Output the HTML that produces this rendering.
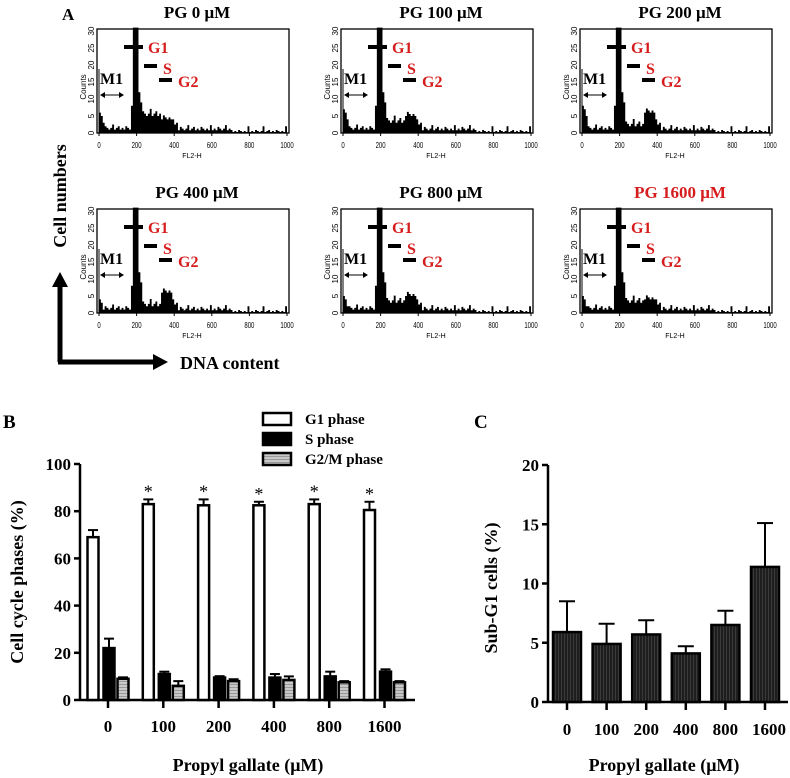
<!DOCTYPE html>
<html><head><meta charset="utf-8"><style>
body{margin:0;background:#fff}
svg{display:block;font-family:"Liberation Serif",serif}
.b{font-weight:bold}
</style></head><body>
<svg id="fig" width="790" height="778" viewBox="0 0 790 778" xmlns="http://www.w3.org/2000/svg">
<defs>
<pattern id="pg" width="3" height="3" patternUnits="userSpaceOnUse"><rect width="3" height="3" fill="#c8c8c8"/><rect width="3" height="1" fill="#999"/></pattern>
<pattern id="pd" width="3" height="3" patternUnits="userSpaceOnUse"><rect width="3" height="3" fill="#1e1e1e"/><rect width="1" height="3" fill="#3a3a3a"/></pattern>
</defs>
<text x="62" y="20" class="b" font-size="17">A</text>
<g id="hist"></g>
<g>
<line x1="60" y1="362" x2="60" y2="285" stroke="#000" stroke-width="5"/>
<polygon points="52,287 68,287 60,272" fill="#000"/>
<line x1="58" y1="362" x2="155" y2="362" stroke="#000" stroke-width="5"/>
<polygon points="153,354 153,370 168,362" fill="#000"/>
<text transform="translate(66,196) rotate(-90)" text-anchor="middle" class="b" font-size="18">Cell numbers</text>
<text x="180" y="369" class="b" font-size="18">DNA content</text>
</g>
<text x="3" y="428" class="b" font-size="19">B</text>
<text x="474" y="428" class="b" font-size="19">C</text>
<g id="chartB"></g>
<g id="chartC"></g>
</svg>
<script>
const NS="http://www.w3.org/2000/svg";
// ---- Chart B data ----
const categories=["0","100","200","400","800","1600"];
const g1Values=[69,83,82.5,82.5,83,80.5];
const g1Err=[3,2,2.5,1.5,2,3.5];
const sValues=[22,11,9.5,9.5,10,12];
const sErr=[4,1,0.6,1.5,2,1];
const g2Values=[9,6,8,8.5,7.5,7.5];
const g2Err=[0.6,2,0.8,1.5,0.5,0.5];
const bTicks=[0,20,40,60,80,100];
// ---- Chart C data ----
const subG1Values=[5.9,4.9,5.7,4.1,6.5,11.4];
const subG1Err=[2.6,1.7,1.2,0.6,1.2,3.7];
const cTicks=[0,5,10,15,20];
// ---- Histogram panel data ----
const panelTitles=["PG 0 μM","PG 100 μM","PG 200 μM","PG 400 μM","PG 800 μM","PG 1600 μM"];
const subG1Heights=[6,7,8,4,5,5];
const g1Heights=[30,30,30,30,30,30];
const sHeights=[5,3,2,2,3,3];
const g2Heights=[4,5,6,6,5,4];
const histTicks=[0,200,400,600,800,1000];
const jitter=[0,1,0,2,1,0,1,3,0,1,2,0,1,0,2,1,0,1,0,3];

function el(tag,attrs,parent,txt){const e=document.createElementNS(NS,tag);for(const k in attrs)e.setAttribute(k,attrs[k]);if(txt!==undefined)e.textContent=txt;parent.appendChild(e);return e;}

const hist=document.getElementById('hist');
const lefts=[97,341,580],tops=[29,209];
panelTitles.forEach((t,i)=>{
  const L=lefts[i%3],T=tops[Math.floor(i/3)],W=192,H=104,B=T+H;
  const g=el('g',{},hist);
  
  
  const tt=el('text',{x:L+100,y:T-11,'text-anchor':'middle','font-size':'17','font-weight':'bold',fill:i==5?'#d61c1c':'#000'},g,t);
  
  
  el('rect',{x:L,y:T,width:W,height:H,fill:'none',stroke:'#000','stroke-width':1.3},g);
  const xs=v=>L+2+v/1000*(W-4), ys=c=>B-Math.min(c,31)/30*(H-2);
  let pts=[[xs(0),B]];
  for(let k=0;k<100;k++){
    const v=k*10,j=jitter[k%20];
    let c;
    if(v<30)c=subG1Heights[i]-k*1.5+j*0.5;
    else if(v<170)c=1+j*0.5;
    else if(v<180)c=8;
    else if(v<210)c=g1Heights[i]+1;
    else if(v<230)c=12-(v-210)*0.3;
    else if(v<330)c=sHeights[i]+j*0.7;
    else if(v<390)c=g2Heights[i]+j*0.6;
    else if(v<420)c=2.5+j*0.5;
    else if(v<700)c=0.8+j*0.5;
    else c=(j==3)?2:0.3+j*0.3;
    pts.push([xs(v),ys(c)],[xs(v+10),ys(c)]);
  }
  pts.push([xs(1000),B]);
  const poly=el('polygon',{points:pts.map(p=>p.join(',')).join(' '),fill:'#000'},g);
  
  
  histTicks.forEach(v=>{el('text',{x:xs(v),y:B+15,'text-anchor':'middle','font-size':'8','font-family':'Liberation Sans,sans-serif',transform:`translate(${xs(v)},${B+15}) scale(0.75,1) translate(${-xs(v)},${-(B+15)})`},g,v);
    el('line',{x1:xs(v),y1:B,x2:xs(v),y2:B+3,stroke:'#000'},g);});
  el('text',{x:L+95,y:B+25,'text-anchor':'middle','font-size':'7','font-family':'Liberation Sans,sans-serif'},g,'FL2-H');
  [0,5,10,15,20,25,30].forEach(c=>{el('text',{transform:`translate(${L-3},${ys(c)}) rotate(-90)`,'text-anchor':'middle','font-size':'8','font-family':'Liberation Sans,sans-serif'},g,c);});
  el('text',{transform:`translate(${L-11},${T+58}) rotate(-90)`,'text-anchor':'middle','font-size':'8','font-family':'Liberation Sans,sans-serif'},g,'Counts');
  el('line',{x1:L+27,y1:T+18,x2:L+46,y2:T+18,stroke:'#000','stroke-width':4},g);
  el('line',{x1:L+47,y1:T+37,x2:L+60,y2:T+37,stroke:'#000','stroke-width':4},g);
  el('line',{x1:L+62,y1:T+51,x2:L+75,y2:T+51,stroke:'#000','stroke-width':4},g);
  el('text',{x:L+51,y:T+24,'font-size':'16','font-weight':'bold',fill:'#d61c1c'},g,'G1');
  el('text',{x:L+66,y:T+45,'font-size':'16','font-weight':'bold',fill:'#d61c1c'},g,'S');
  el('text',{x:L+81,y:T+58,'font-size':'16','font-weight':'bold',fill:'#d61c1c'},g,'G2');
  el('text',{x:L+3,y:T+55,'font-size':'16','font-weight':'bold'},g,'M1');
  el('line',{x1:L+2,y1:T+40,x2:L+2,y2:B,stroke:'#000'},g);
  el('line',{x1:L+4,y1:T+66,x2:L+25,y2:T+66,stroke:'#000'},g);
  el('polygon',{points:`${L+3},${T+66} ${L+8},${T+63} ${L+8},${T+69}`},g);
  el('polygon',{points:`${L+27},${T+66} ${L+22},${T+63} ${L+22},${T+69}`},g);
});

(function(){
  const g=document.getElementById('chartB');
  const x0=80,x1=415,yb=700,yt=464;
  const y=v=>yb-v/100*(yb-yt);
  const xc=i=>108+i*55.3;
  el('line',{x1:x0,y1:yb,x2:x1,y2:yb,stroke:'#000','stroke-width':2.5},g);
  el('line',{x1:x0,y1:yb+1,x2:x0,y2:yt,stroke:'#000','stroke-width':2.5},g);
  bTicks.forEach(t=>{el('line',{x1:x0-6,y1:y(t),x2:x0,y2:y(t),stroke:'#000','stroke-width':2.5},g);
    el('text',{x:x0-9,y:y(t)+6,'text-anchor':'end','font-size':'17','font-weight':'bold'},g,t);});
  const series=[[g1Values,g1Err,'#fff',-15],[sValues,sErr,'#000',1],[g2Values,g2Err,'url(#pg)',15]];
  categories.forEach((c,i)=>{
    el('line',{x1:xc(i),y1:yb,x2:xc(i),y2:yb+8,stroke:'#000','stroke-width':2.5},g);
    const lab=el('text',{x:xc(i),y:yb+32,'text-anchor':'middle','font-size':'17','font-weight':'bold'},g,c);
    
    
    series.forEach(([vals,err,fill,off])=>{
      const cx=xc(i)+off;
      el('line',{x1:cx,y1:y(vals[i]),x2:cx,y2:y(vals[i]+err[i]),stroke:'#000','stroke-width':2},g);
      el('line',{x1:cx-5,y1:y(vals[i]+err[i]),x2:cx+5,y2:y(vals[i]+err[i]),stroke:'#000','stroke-width':2},g);
      const r=el('rect',{x:cx-5.5,y:y(vals[i]),width:11,height:yb-y(vals[i]),fill:fill,stroke:'#000','stroke-width':2.5},g);
      
      
    });
    if(i>0){el('text',{x:xc(i)-15,y:y(g1Values[i]+g1Err[i])-2,'text-anchor':'middle','font-size':'18'},g,'*');}
  });
  el('text',{transform:'translate(23,582) rotate(-90)','text-anchor':'middle','font-size':'18','font-weight':'bold'},g,'Cell cycle phases (%)');
  el('text',{x:248,y:771,'text-anchor':'middle','font-size':'18','font-weight':'bold'},g,'Propyl gallate (μM)');
  const leg=[['G1 phase','#fff',419],['S phase','#000',439],['G2/M phase','url(#pg)',459]];
  leg.forEach(([t,f,cy])=>{
    const r=el('rect',{x:263,y:cy-6,width:28,height:12,fill:f,stroke:'#000','stroke-width':2.5},g);
    
    
    el('text',{x:305,y:cy+5,'font-size':'15','font-weight':'bold'},g,t);
  });
})();

(function(){
  const g=document.getElementById('chartC');
  const x0=548,x1=788,yb=702,yt=465;
  const y=v=>yb-v/20*(yb-yt);
  const xc=i=>567+i*39.6;
  el('line',{x1:x0,y1:yb,x2:x1,y2:yb,stroke:'#000','stroke-width':2.5},g);
  el('line',{x1:x0,y1:yb+1,x2:x0,y2:yt,stroke:'#000','stroke-width':2.5},g);
  cTicks.forEach(t=>{el('line',{x1:x0-6,y1:y(t),x2:x0,y2:y(t),stroke:'#000','stroke-width':2.5},g);
    el('text',{x:x0-9,y:y(t)+6,'text-anchor':'end','font-size':'17','font-weight':'bold'},g,t);});
  categories.forEach((c,i)=>{
    el('line',{x1:xc(i),y1:yb,x2:xc(i),y2:yb+8,stroke:'#000','stroke-width':2.5},g);
    el('text',{x:xc(i)+(i==5?4:0),y:yb+33,'text-anchor':'middle','font-size':'17','font-weight':'bold'},g,c);
    const v=subG1Values[i],e=subG1Err[i];
    el('line',{x1:xc(i),y1:y(v),x2:xc(i),y2:y(v+e),stroke:'#000','stroke-width':2},g);
    el('line',{x1:xc(i)-8,y1:y(v+e),x2:xc(i)+8,y2:y(v+e),stroke:'#000','stroke-width':2},g);
    const r=el('rect',{x:xc(i)-14,y:y(v),width:28,height:yb-y(v),fill:'url(#pd)',stroke:'#000','stroke-width':2.5},g);
    
    
  });
  el('text',{transform:'translate(497,588) rotate(-90)','text-anchor':'middle','font-size':'18','font-weight':'bold'},g,'Sub-G1 cells (%)');
  el('text',{x:664,y:771,'text-anchor':'middle','font-size':'18','font-weight':'bold'},g,'Propyl gallate (μM)');
})();
</script>
</body></html>
